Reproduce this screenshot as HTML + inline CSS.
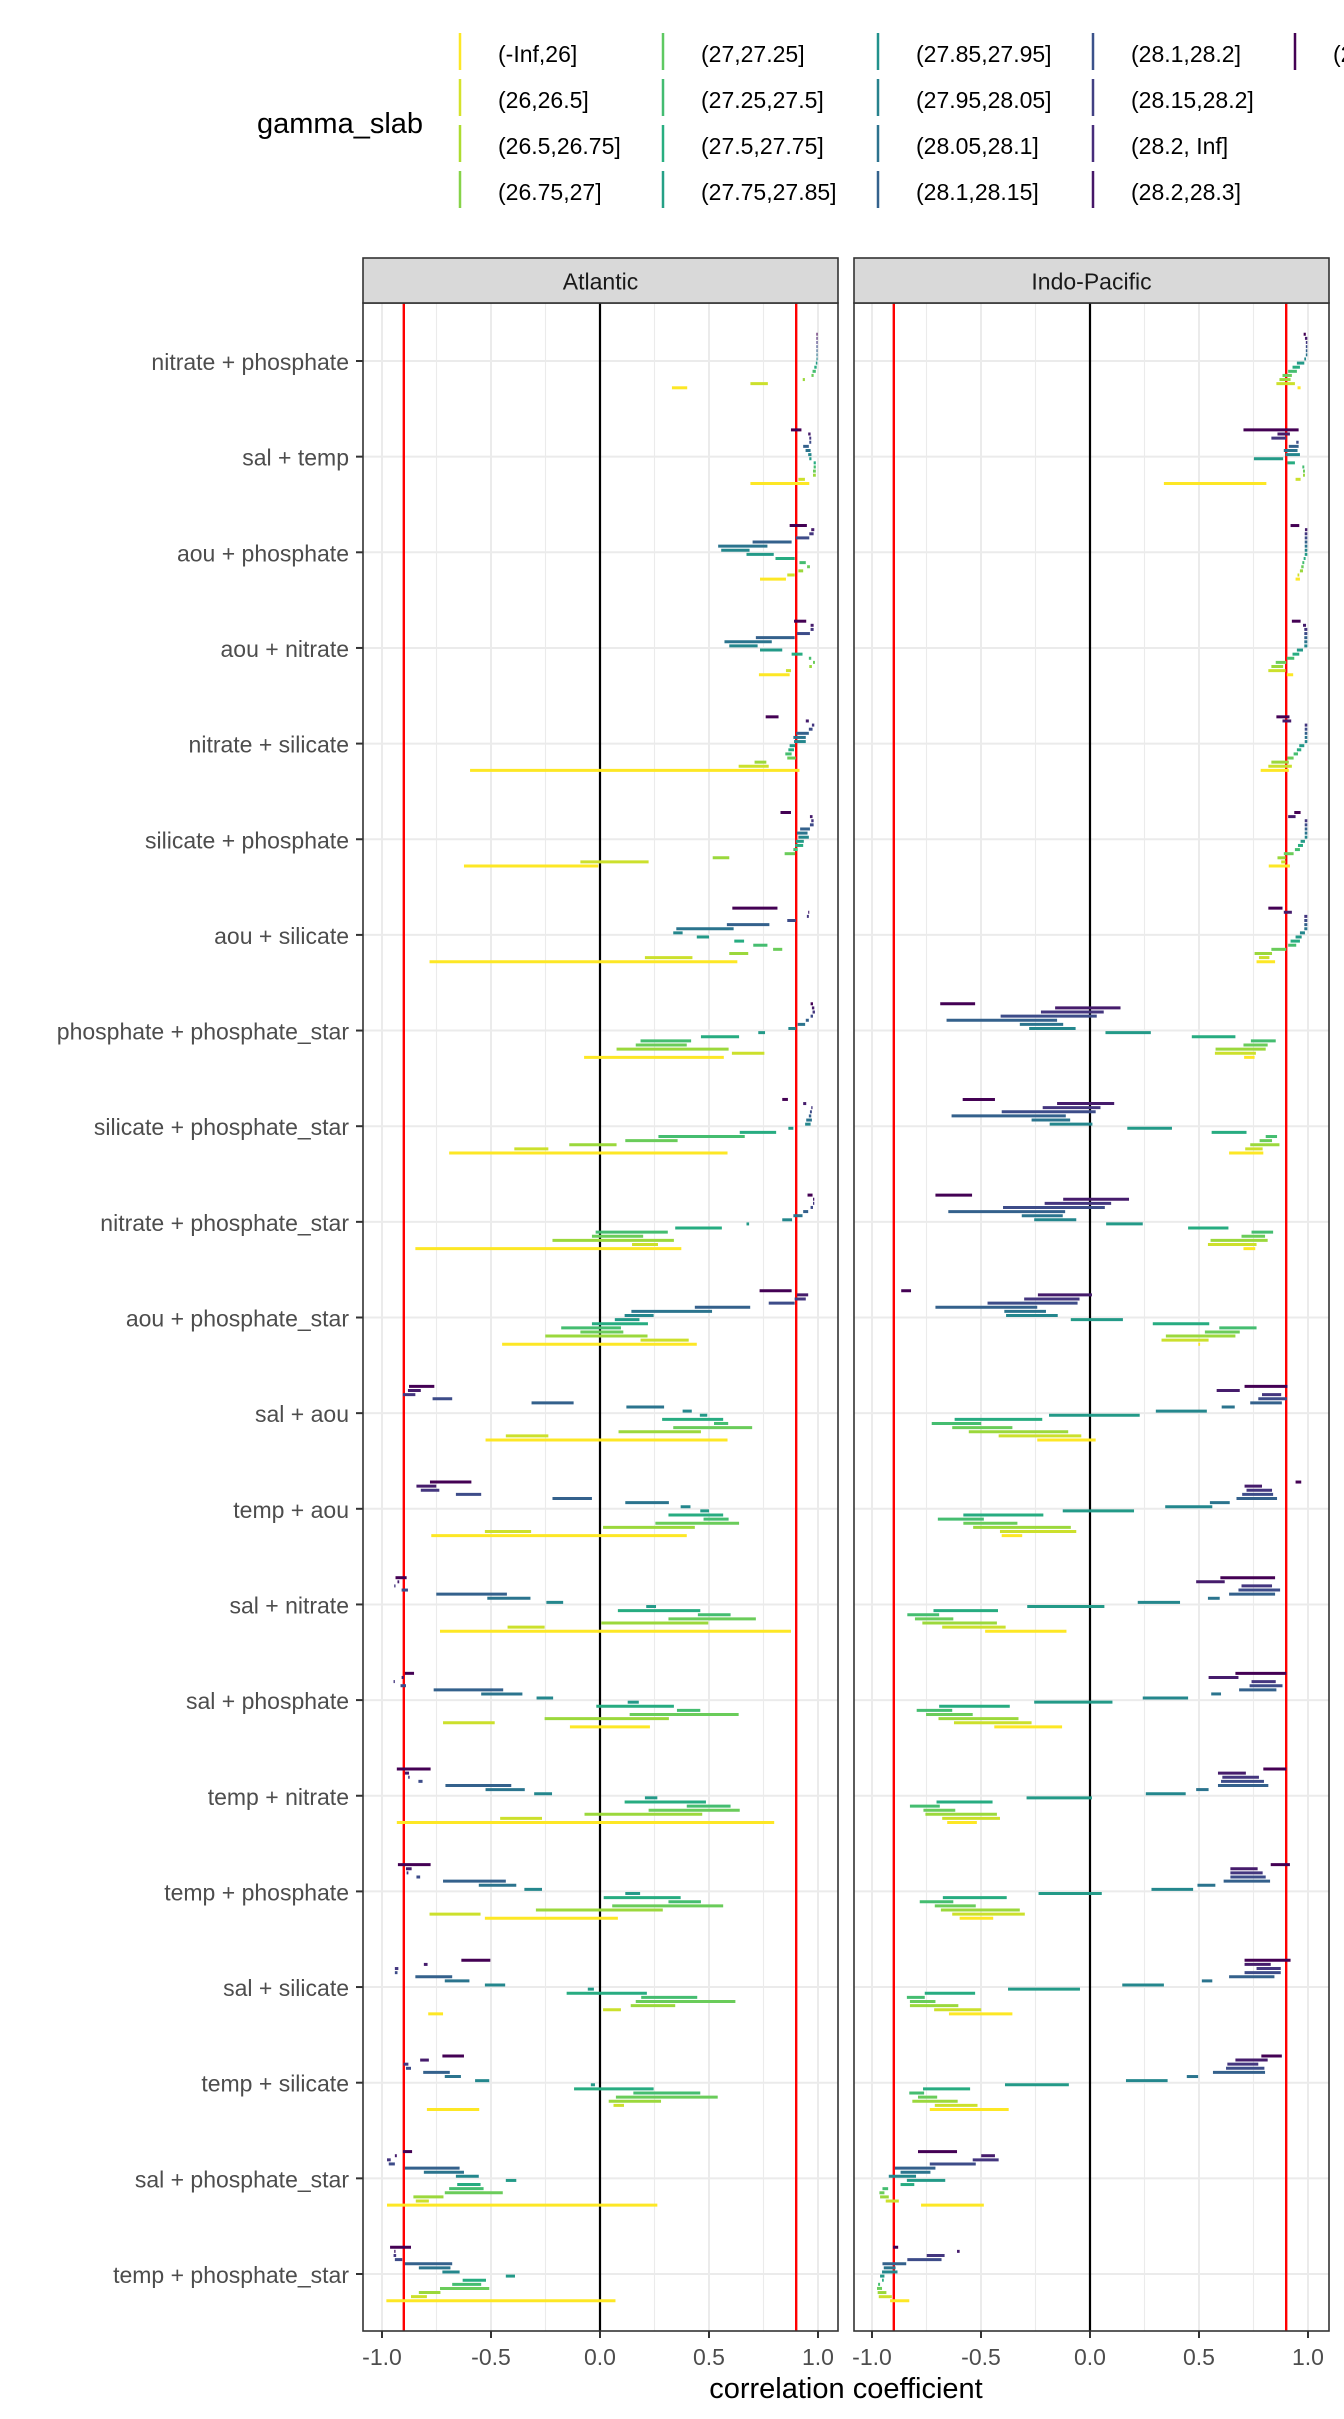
<!DOCTYPE html>
<html><head><meta charset="utf-8">
<style>
html,body{margin:0;padding:0;background:#fff;width:1344px;height:2419px;overflow:hidden;}
svg{display:block;font-family:"Liberation Sans",Arial,sans-serif;}
</style></head>
<body>
<svg id="chart" width="1344" height="2419" viewBox="0 0 1344 2419" xmlns="http://www.w3.org/2000/svg"></svg>
<script>
const categories = ["nitrate + phosphate","sal + temp","aou + phosphate","aou + nitrate","nitrate + silicate","silicate + phosphate","aou + silicate","phosphate + phosphate_star","silicate + phosphate_star","nitrate + phosphate_star","aou + phosphate_star","sal + aou","temp + aou","sal + nitrate","sal + phosphate","temp + nitrate","temp + phosphate","sal + silicate","temp + silicate","sal + phosphate_star","temp + phosphate_star"];
const legendLabels = ["(-Inf,26]","(26,26.5]","(26.5,26.75]","(26.75,27]","(27,27.25]","(27.25,27.5]","(27.5,27.75]","(27.75,27.85]","(27.85,27.95]","(27.95,28.05]","(28.05,28.1]","(28.1,28.15]","(28.1,28.2]","(28.15,28.2]","(28.2, Inf]","(28.2,28.3]","(28.3, Inf]"];
const xTicks = [-1,-0.5,0,0.5,1];
const xTickLabels = ["-1.0","-0.5","0.0","0.5","1.0"];
const xMinor = [-0.75,-0.25,0.25,0.75];
const refLines = [-0.9,0.9];
const panels = ["Atlantic","Indo-Pacific"];
const T=[.985,.997];
// [lo, hi] per slot (slot 0 = lightest slab, 13 = densest)
const atlanticRanges = [
[[.33,.40],[.69,.77],[.93,.94],[.97,.98],[.975,.99],[.983,.994],[.99,.997],[.993,.998],[.993,.998],[.993,.998],[.993,.998],[.993,.998],[.993,.998],[.993,.998]],
[[.69,.96],[.91,.94],[.977,.99],[.977,.99],[.98,.99],[.98,.99],[.96,.97],[.955,.97],[.943,.966],[.932,.958],[.96,.969],[.96,.969],[.955,.966],[.876,.924]],
[[.734,.853],[.859,.893],[.91,.932],[.95,.963],[.915,.944],[.805,.893],[.672,.797],[.556,.686],[.542,.768],[.70,.879],[.898,.96],[.96,.98],[.969,.983],[.87,.949]],
[[.729,.87],[.853,.876],[.96,.972],[.977,.986],[.958,.969],[.879,.929],[.734,.836],[.593,.723],[.571,.788],[.715,.893],[.904,.963],[.966,.98],[.966,.98],[.89,.946]],
[[-.596,.915],[.636,.774],[.709,.763],[.859,.898],[.85,.879],[.864,.89],[.87,.895],[.89,.944],[.887,.944],[.90,.958],[.958,.975],[.972,.983],[.944,.958],[.76,.819]],
[[-.624,-.008],[-.09,.223],[.517,.593],[.847,.895],[.887,.907],[.895,.932],[.898,.935],[.91,.958],[.904,.952],[.918,.963],[.963,.98],[.969,.98],[.963,.975],[.828,.876]],
[[-.782,.63],[.206,.424],[.593,.68],[.794,.836],[.703,.768],[.616,.661],[.444,.5],[.336,.379],[.35,.613],[.582,.777],[.859,.898],[.949,.958],[.955,.96],[.607,.814]],
[[-.073,.568],[.605,.754],[.076,.59],[.164,.398],[.186,.418],[.463,.638],[.726,.757],[.864,.898],[.907,.941],[.944,.958],[.966,.977],[.975,.986],[.972,.983],[.966,.977]],
[[-.692,.585],[-.393,-.237],[-.141,.076],[.116,.356],[.268,.664],[.641,.808],[.864,.887],[.941,.966],[.946,.972],[.958,.969],[.963,.972],[.969,.975],[.932,.946],[.836,.862]],
[[-.847,.373],[.147,.266],[-.218,.339],[-.037,.198],[-.02,.311],[.345,.559],[.672,.684],[.836,.881],[.887,.929],[.932,.955],[.966,.977],[.977,.983],[.977,.983],[.952,.975]],
[[-.449,.444],[.186,.407],[-.251,.218],[-.09,.107],[-.178,.096],[-.037,.22],[.068,.181],[.113,.246],[.144,.514],[.435,.689],[.774,.893],[.893,.944],[.904,.955],[.732,.879]],
[[-.525,.585],[-.432,-.237],[.085,.463],[.336,.698],[.523,.588],[.285,.565],[.458,.492],[.379,.421],[.121,.294],[-.314,-.121],[-.768,-.678],[-.904,-.847],[-.881,-.822],[-.876,-.76]],
[[-.774,.398],[-.528,-.316],[.014,.435],[.254,.638],[.475,.59],[.314,.565],[.46,.5],[.37,.415],[.116,.316],[-.218,-.037],[-.661,-.545],[-.822,-.737],[-.842,-.751],[-.78,-.59]],
[[-.734,.876],[-.424,-.254],[.006,.497],[.314,.715],[.449,.599],[.082,.46],[.212,.257],[-.246,-.169],[-.517,-.319],[-.751,-.427],[-.91,-.881],[-.944,-.938],[-.929,-.921],[-.938,-.887]],
[[-.138,.229],[-.72,-.483],[-.254,.316],[.136,.636],[.353,.46],[-.017,.339],[.127,.178],[-.291,-.215],[-.545,-.356],[-.763,-.444],[-.915,-.89],[-.947,-.941],[-.91,-.9],[-.895,-.853]],
[[-.932,.799],[-.458,-.266],[-.071,.469],[.223,.641],[.398,.599],[.113,.486],[.206,.263],[-.302,-.22],[-.525,-.345],[-.709,-.407],[-.833,-.814],[-.88,-.873],[-.895,-.876],[-.932,-.777]],
[[-.528,.082],[-.782,-.548],[-.294,.288],[.056,.565],[.314,.463],[.017,.37],[.116,.184],[-.347,-.266],[-.556,-.384],[-.72,-.432],[-.842,-.825],[-.887,-.879],[-.89,-.864],[-.927,-.777]],
[[-.788,-.72],[.014,.096],[.141,.345],[.164,.621],[.189,.446],[-.153,.215],[-.056,-.028],[-.528,-.435],[-.712,-.599],[-.847,-.678],[-.941,-.929],[-.941,-.925],[-.808,-.791],[-.636,-.503]],
[[-.794,-.554],[.062,.11],[.04,.28],[.073,.54],[.153,.46],[-.119,.246],[-.042,-.023],[-.573,-.508],[-.712,-.638],[-.811,-.689],[-.89,-.867],[-.901,-.879],[-.825,-.785],[-.723,-.624]],
[[-.977,.263],[-.845,-.785],[-.856,-.718],[-.712,-.446],[-.692,-.534],[-.655,-.548],[-.432,-.384],[-.661,-.556],[-.808,-.624],[-.895,-.644],[-.969,-.941],[-.977,-.96],[-.941,-.932],[-.904,-.862]],
[[-.98,.071],[-.867,-.794],[-.831,-.732],[-.734,-.508],[-.678,-.545],[-.63,-.523],[-.432,-.39],[-.723,-.644],[-.831,-.686],[-.895,-.678],[-.941,-.907],[-.947,-.935],[-.944,-.938],[-.963,-.867]]
];
const indoPacificRanges = [
[[.952,.966],[.855,.94],[.869,.92],[.883,.926],[.909,.949],[.929,.963],[.949,.983],[.983,.991],[.99,.997],[.99,.997],[.99,.997],[.99,.997],[.986,.997],[.98,.99]],
[[.339,.809],[.943,.966],[.977,.986],[.977,.986],[.974,.983],[.906,.94],[.752,.886],[.897,.963],[.889,.952],[.912,.957],[.946,.957],[.832,.9],[.86,.917],[.704,.957]],
[[.943,.963],[.952,.96],[.963,.977],[.969,.98],[.974,.983],[.98,.989],[.985,.997],[.985,.997],[.985,.997],[.985,.997],[.985,.997],[.985,.997],[.986,.997],[.92,.96]],
[[.903,.932],[.818,.897],[.832,.886],[.852,.90],[.903,.937],[.929,.96],[.949,.977],[.983,.997],[.983,.997],[.983,.997],[.983,.997],[.983,.997],[.977,.991],[.926,.966]],
[[.783,.912],[.818,.926],[.832,.912],[.906,.934],[.934,.954],[.949,.969],[.96,.983],[.985,.997],[.985,.997],[.985,.997],[.985,.997],[.985,.997],[.883,.923],[.855,.915]],
[[.82,.917],[.877,.897],[.86,.897],[.889,.934],[.94,.963],[.954,.977],[.966,.986],[.985,.997],[.985,.997],[.985,.997],[.985,.997],[.985,.997],[.909,.943],[.937,.966]],
[[.764,.849],[.775,.823],[.755,.835],[.832,.90],[.909,.946],[.92,.963],[.943,.971],[.963,.986],[.983,.997],[.983,.997],[.983,.997],[.983,.997],[.889,.926],[.818,.883]],
[[.707,.755],[.573,.761],[.576,.806],[.704,.815],[.738,.852],[.467,.667],[.071,.279],[-.279,-.066],[-.322,-.123],[-.658,-.151],[-.41,.031],[-.225,.063],[-.16,.14],[-.687,-.527]],
[[.638,.795],[.712,.792],[.735,.869],[.778,.835],[.806,.858],[.558,.718],[.171,.376],[-.185,.011],[-.268,-.091],[-.635,-.111],[-.405,.026],[-.217,.048],[-.151,.111],[-.584,-.436]],
[[.704,.758],[.541,.764],[.553,.815],[.695,.803],[.741,.84],[.45,.635],[.074,.242],[-.256,-.063],[-.313,-.125],[-.65,-.114],[-.399,.068],[-.208,.097],[-.123,.179],[-.709,-.541]],
[[.497,.505],[.328,.544],[.348,.667],[.527,.687],[.593,.764],[.288,.547],[-.088,.151],[-.385,-.148],[-.393,-.202],[-.709,-.242],[-.47,-.057],[-.302,-.048],[-.239,.009],[-.866,-.821]],
[[-.242,.026],[-.419,-.04],[-.556,-.1],[-.632,-.356],[-.726,-.499],[-.621,-.219],[-.188,.228],[.302,.536],[.604,.664],[.735,.88],[.772,.903],[.789,.877],[.581,.687],[.709,.906]],
[[-.405,-.311],[-.413,-.063],[-.536,-.088],[-.581,-.333],[-.698,-.487],[-.581,-.214],[-.125,.202],[.345,.561],[.55,.641],[.672,.858],[.698,.84],[.718,.835],[.709,.789],[.943,.969]],
[[-.481,-.108],[-.678,-.387],[-.769,-.427],[-.803,-.627],[-.838,-.692],[-.718,-.422],[-.288,.066],[.219,.413],[.541,.595],[.638,.849],[.681,.872],[.695,.835],[.487,.618],[.598,.849]],
[[-.439,-.128],[-.624,-.268],[-.695,-.328],[-.752,-.538],[-.795,-.632],[-.692,-.368],[-.256,.103],[.242,.45],[.556,.601],[.684,.855],[.732,.883],[.741,.852],[.544,.681],[.667,.90]],
[[-.655,-.519],[-.678,-.413],[-.755,-.427],[-.764,-.618],[-.826,-.689],[-.704,-.447],[-.291,.009],[.256,.439],[.487,.544],[.587,.818],[.601,.798],[.607,.775],[.587,.715],[.795,.90]],
[[-.598,-.444],[-.632,-.299],[-.684,-.322],[-.712,-.524],[-.781,-.627],[-.675,-.382],[-.236,.054],[.282,.473],[.493,.575],[.613,.826],[.644,.806],[.644,.792],[.644,.769],[.829,.917]],
[[-.647,-.356],[-.715,-.499],[-.826,-.604],[-.826,-.709],[-.84,-.758],[-.758,-.527],[-.376,-.046],[.148,.339],[.513,.561],[.638,.846],[.709,.875],[.764,.875],[.709,.829],[.709,.92]],
[[-.735,-.373],[-.712,-.516],[-.815,-.607],[-.789,-.701],[-.829,-.761],[-.766,-.55],[-.39,-.097],[.165,.356],[.444,.496],[.564,.803],[.624,.80],[.63,.772],[.667,.815],[.786,.88]],
[[-.775,-.487],[-.937,-.877],[-.963,-.923],[-.966,-.943],[-.952,-.926],[-.869,-.806],[-.84,-.664],[-.923,-.798],[-.869,-.732],[-.895,-.709],[-.735,-.524],[-.538,-.419],[-.499,-.436],[-.789,-.61]],
[[-.917,-.829],[-.969,-.909],[-.974,-.934],[-.977,-.954],[-.972,-.963],[-.954,-.946],[-.963,-.943],[-.954,-.883],[-.946,-.892],[-.952,-.843],[-.838,-.681],[-.749,-.667],[-.61,-.598],[-.903,-.88]]
];

const NS="http://www.w3.org/2000/svg";
const svg=document.getElementById('chart');
function mk(tag,attrs,parent){const e=document.createElementNS(NS,tag);for(const k in attrs)e.setAttribute(k,attrs[k]);(parent||svg).appendChild(e);return e;}
const VIR=["#440154","#472d7b","#3b528b","#2c728e","#21918c","#28ae80","#5ec962","#addc30","#fde725"];
function hex2rgb(h){return [parseInt(h.substr(1,2),16),parseInt(h.substr(3,2),16),parseInt(h.substr(5,2),16)];}
function viridis(t){t=Math.max(0,Math.min(1,t));const p=t*(VIR.length-1);const i=Math.min(VIR.length-2,Math.floor(p));const f=p-i;const a=hex2rgb(VIR[i]),b=hex2rgb(VIR[i+1]);return "rgb("+a.map((v,j)=>Math.round(v+(b[j]-v)*f)).join(",")+")";}

const panelX=[363,854], panelW=475, panelTop=303, panelBot=2331, stripTop=258;
const zeroX=[600,1090], unit=218;
function xAtl(v){return zeroX[0]+v*unit;}
function xIndo(v){return zeroX[1]+v*unit;}
const xFns=[xAtl,xIndo];
const rowStart=361, rowStep=95.65;
function rowY(i){return rowStart+i*rowStep;}
const nSlots=14, slotStep=4.12;
function slotY(i,k){return rowY(i)+26.8-k*slotStep;}

// Legend
const lt=mk('text',{x:257,y:124,'font-size':29,fill:'#000','dominant-baseline':'central'});
lt.textContent='gamma_slab';


const legX=[460,663,878,1093,1295], legRowY=[52,98,144,190];
legendLabels.forEach((lab,i)=>{
  const c=Math.floor(i/4), r=i%4;
  const g=mk('g',{});
  
  
  const col=viridis(1-i/(legendLabels.length-1));
  mk('line',{x1:legX[c],x2:legX[c],y1:legRowY[r]-19,y2:legRowY[r]+18,stroke:col,'stroke-width':2.5},g);
  const t=mk('text',{x:legX[c]+38,y:legRowY[r]+2,'font-size':23,fill:'#000','dominant-baseline':'central'},g);
  t.textContent=lab;
});

// Panels
panels.forEach((name,p)=>{
  const X=panelX[p], xf=xFns[p];
  const pg=mk('g',{});
  
  
  mk('rect',{x:X,y:panelTop,width:panelW,height:panelBot-panelTop,fill:'#fff'},pg);
  xMinor.forEach(v=>mk('line',{x1:xf(v),x2:xf(v),y1:panelTop,y2:panelBot,stroke:'#ebebeb','stroke-width':1.1},pg));
  xTicks.forEach(v=>mk('line',{x1:xf(v),x2:xf(v),y1:panelTop,y2:panelBot,stroke:'#ebebeb','stroke-width':2},pg));
  categories.forEach((c,i)=>mk('line',{x1:X,x2:X+panelW,y1:rowY(i),y2:rowY(i),stroke:'#ebebeb','stroke-width':2},pg));
  const zl=mk('line',{x1:xf(0),x2:xf(0),y1:panelTop,y2:panelBot,stroke:'#000','stroke-width':2.2},pg);
  
  
  refLines.forEach(v=>{
    const rl=mk('line',{x1:xf(v),x2:xf(v),y1:panelTop,y2:panelBot,stroke:'#ff0000','stroke-width':2.4},pg);
    
    
  });
  const data = p===0?atlanticRanges:indoPacificRanges;
  data.forEach((row,i)=>{
    row.forEach((rg,k)=>{
      const seg=mk('line',{x1:xf(rg[0]),x2:Math.max(xf(rg[1]),xf(rg[0])+1),y1:slotY(i,k),y2:slotY(i,k),stroke:viridis(1-k/(nSlots-1)),'stroke-width':3},pg);
      
      
    });
  });
  mk('rect',{x:X,y:panelTop,width:panelW,height:panelBot-panelTop,fill:'none',stroke:'#333','stroke-width':1.6},pg);
  // strip
  const st=mk('rect',{x:X,y:stripTop,width:panelW,height:panelTop-stripTop,fill:'#d9d9d9',stroke:'#333','stroke-width':1.6});
  
  
  const stt=mk('text',{x:X+panelW/2,y:(stripTop+panelTop)/2+1,'font-size':23,fill:'#1a1a1a','text-anchor':'middle','dominant-baseline':'central'});
  stt.textContent=name;
  
  
  // x ticks
  xTicks.forEach((v,j)=>{
    mk('line',{x1:xf(v),x2:xf(v),y1:panelBot,y2:panelBot+7,stroke:'#333','stroke-width':2});
    const tl=mk('text',{x:xf(v),y:2357,'font-size':23,fill:'#4d4d4d','text-anchor':'middle','dominant-baseline':'central'});
    tl.textContent=xTickLabels[j];
    
    
  });
});

// y axis labels
categories.forEach((c,i)=>{
  mk('line',{x1:356,x2:363,y1:rowY(i),y2:rowY(i),stroke:'#333','stroke-width':2});
  const t=mk('text',{x:349,y:rowY(i)+1,'font-size':23,fill:'#4d4d4d','text-anchor':'end','dominant-baseline':'central'});
  t.textContent=c;
  
  
});

const at=mk('text',{x:846,y:2389,'font-size':29,fill:'#000','text-anchor':'middle','dominant-baseline':'central'});
at.textContent='correlation coefficient';


</script>
</body></html>
